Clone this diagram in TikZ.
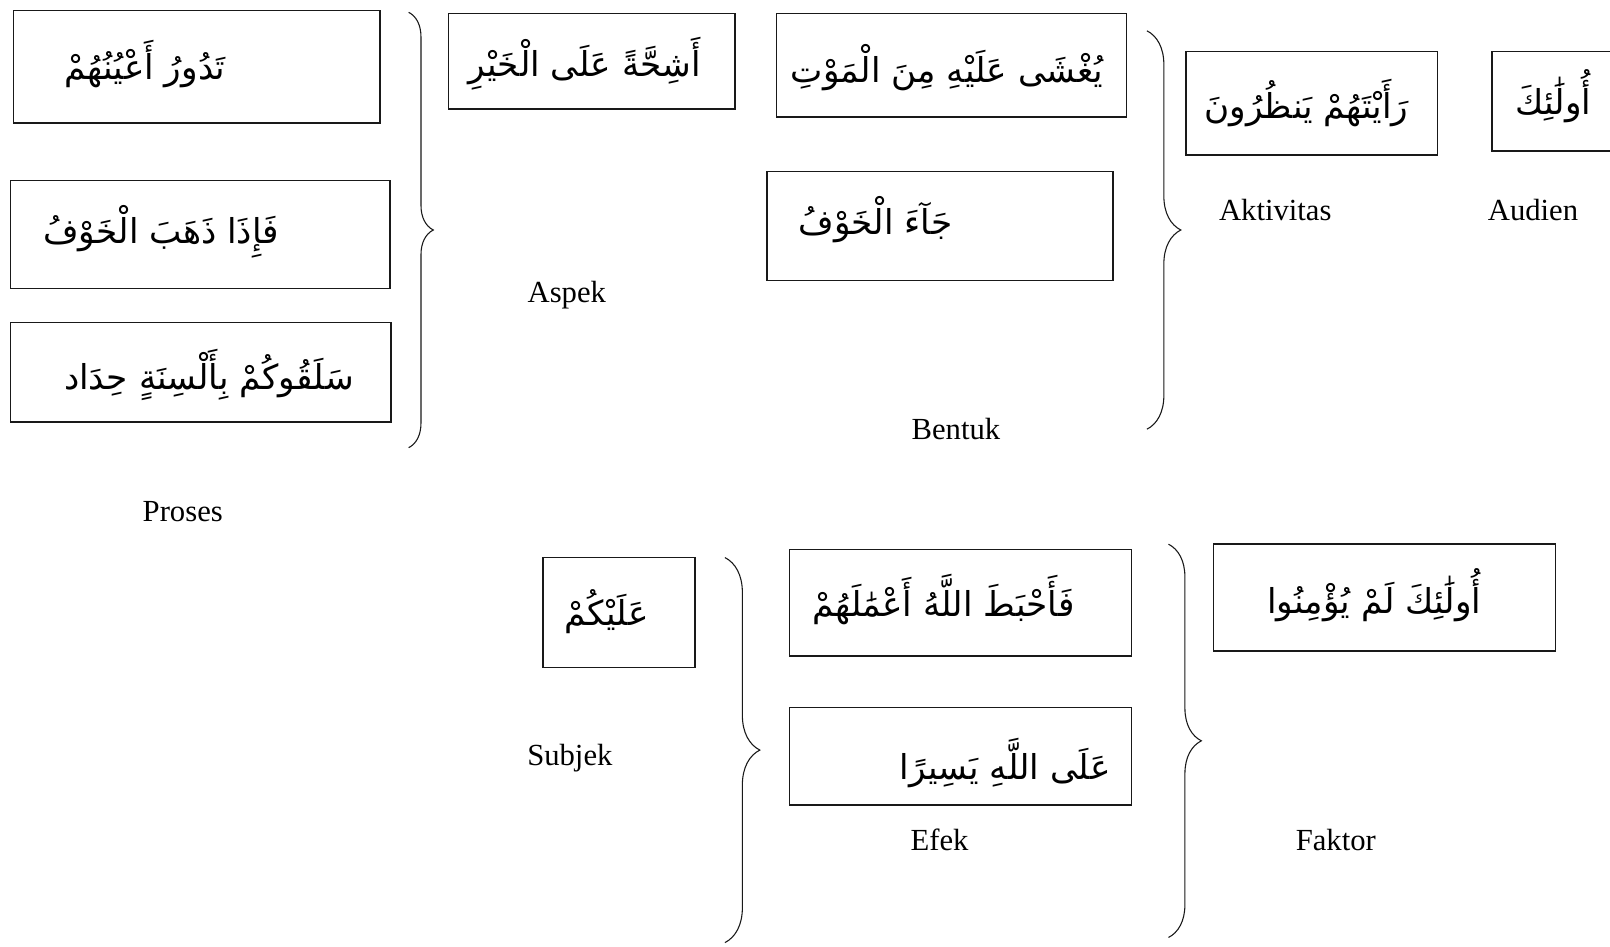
\documentclass[tikz,border=0pt]{standalone}
\usepackage{fontspec}
\usepackage{tikz}
\usetikzlibrary{positioning,fit,decorations.pathreplacing}
\setmainfont{Liberation Serif}
\newfontfamily\arabicfont[Script=Arabic]{DejaVu Sans}
\TeXXeTstate=1
\definecolor{LineGray}{RGB}{25,25,25}

\begin{document}
\begin{tikzpicture}[x=0.02cm, y=-0.02cm,
    kotak/.style={draw=LineGray, line width=0.8pt, inner sep=0pt},
    ayat/.style={font=\arabicfont\fontsize{19}{23}\selectfont, inner sep=0pt, anchor=east},
    label/.style={font=\fontsize{17}{20}\selectfont, inner sep=0pt},
    kurung/.style={draw=LineGray, line width=0.6pt, decorate, decoration={brace, amplitude=#1}}]
        \useasboundingbox (0,0) rectangle (1568,922);
        \node[kotak, fit={(13,10) (370,120)}] (k1) {};
        \node[kotak, fit={(10,176) (380,281)}] (k2) {};
        \node[kotak, fit={(10,314) (381,411)}] (k3) {};
        \node[kotak, fit={(437,13) (716,106)}] (k4) {};
        \node[kotak, fit={(756,13) (1097,114)}] (k5) {};
        \node[kotak, fit={(747,167) (1084,273)}] (k6) {};
        \node[kotak, fit={(1155,50) (1400,151)}] (k7) {};
        \node[kotak, fit={(1453,50) (1590,147)}] (k8) {};
        \node[kotak, fit={(529,543) (677,650)}] (k9) {};
        \node[kotak, fit={(769,535) (1102,639)}] (k10) {};
        \node[kotak, fit={(769,689) (1102,784)}] (k11) {};
        \node[kotak, fit={(1182,530) (1515,634)}] (k12) {};
        \node[ayat] (a1) at (220,62) {\beginR تَدُورُ أَعْيُنُهُمْ\endR};
        \node[ayat] (a2) at (272,226) {\beginR فَإِذَا ذَهَبَ الْخَوْفُ\endR};
        \node[ayat] (a3) at (345,365) {\beginR سَلَقُوكُمْ بِأَلْسِنَةٍ حِدَاد\endR};
        \node[ayat] (a4) at (683,62) {\beginR أَشِحَّةً عَلَى الْخَيْرِ\endR};
        \node[ayat] (a5) at (1075,66) {\beginR يُغْشَى عَلَيْهِ مِنَ الْمَوْتِ\endR};
        \node[ayat] (a6) at (928,214) {\beginR جَآءَ الْخَوْفُ\endR};
        \node[ayat] (a7) at (1372,100) {\beginR رَأَيْتَهُمْ يَنظُرُونَ\endR};
        \node[ayat] (a8) at (1550,94) {\beginR أُولَٰئِكَ\endR};
        \node[ayat] (a9) at (632,596) {\beginR عَلَيْكُمْ\endR};
        \node[ayat] (a10) at (1047,584) {\beginR فَأَحْبَطَ اللَّهُ أَعْمَٰلَهُمْ\endR};
        \node[ayat] (a11) at (1082,743) {\beginR عَلَى اللَّهِ يَسِيرًا\endR};
        \node[ayat] (a12) at (1443,580) {\beginR أُولَٰئِكَ لَمْ يُؤْمِنُوا\endR};
        \node[label] (proses) at (178,498) {Proses};
        \node[label] (aspek) at (552,287) {Aspek};
        \node[label] (bentuk) at (931,418) {Bentuk};
        \node[label] (aktivitas) at (1242,205) {Aktivitas};
        \node[label] (audien) at (1493,205) {Audien};
        \node[label] (subjek) at (555,738) {Subjek};
        \node[label] (efek) at (915,818) {Efek};
        \node[label] (faktor) at (1301,818) {Faktor};
        \coordinate (p1) at (398,12); \coordinate (p2) at (398,436);
        \coordinate (p3) at (1117,30); \coordinate (p4) at (1117,418);
        \coordinate (p5) at (706,543); \coordinate (p6) at (706,918);
        \coordinate (p7) at (1138,530); \coordinate (p8) at (1138,913);
        \draw[kurung=0.48cm] (p1) -- (p2);
        \draw[kurung=0.66cm] (p3) -- (p4);
        \draw[kurung=0.68cm] (p5) -- (p6);
        \draw[kurung=0.64cm] (p7) -- (p8);
      \end{tikzpicture}
\end{document}
